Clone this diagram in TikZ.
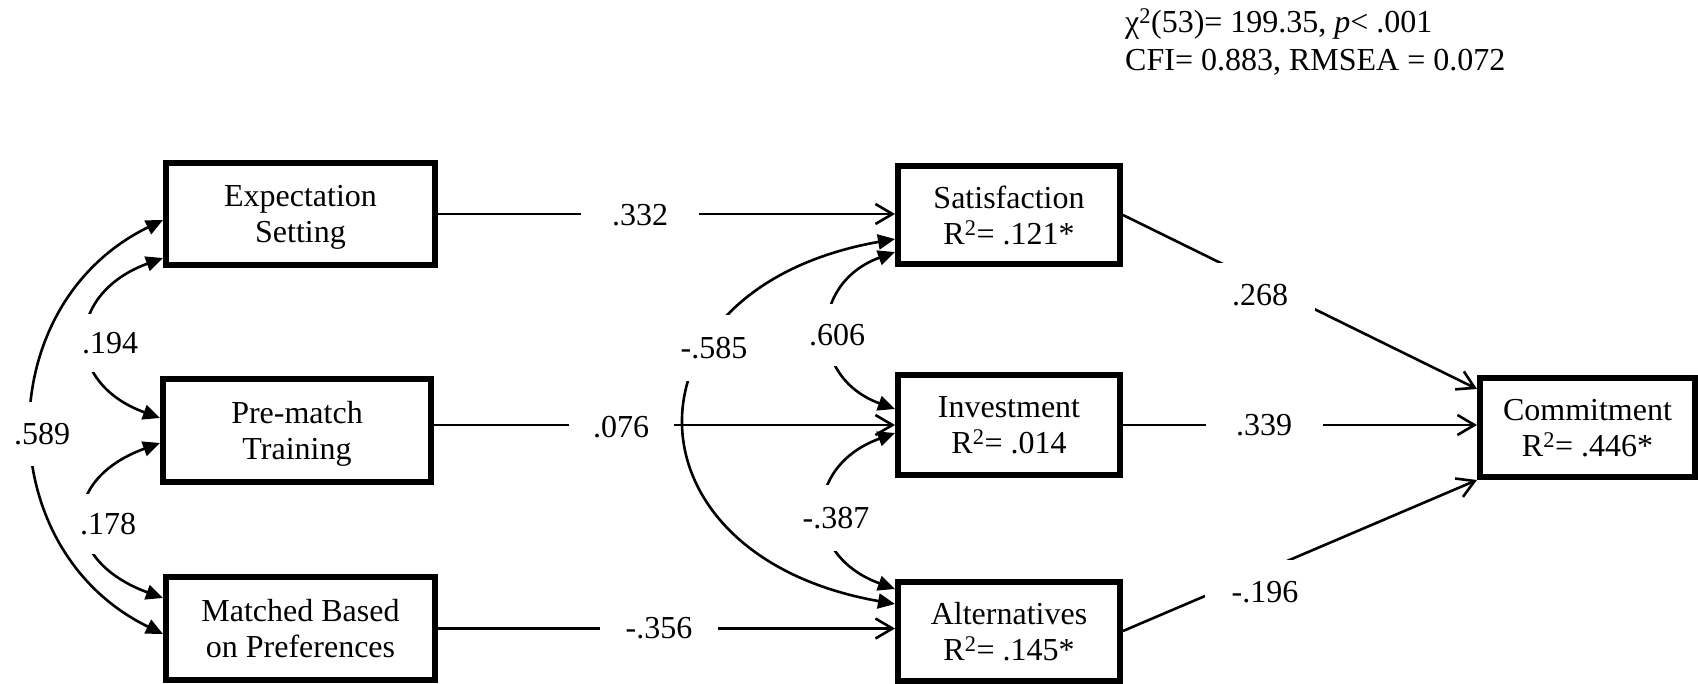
\documentclass[tikz,border=0pt]{standalone}
\usepackage{fontspec}
\setmainfont{Liberation Serif}
\usetikzlibrary{arrows.meta}
\begin{document}
\begin{tikzpicture}[x=1pt,y=1pt,
  every node/.style={font=\fontsize{32}{36}\selectfont},
  box/.style={draw, line width=6pt, align=center, inner sep=0pt, text depth=0pt},
  conn/.style={line width=2.6pt, -{Straight Barb[length=17pt,width=20pt]}},
  cov/.style={line width=2.6pt, {Triangle[length=17pt,width=15pt]}-{Triangle[length=17pt,width=15pt]}},
  lbl/.style={fill=white, inner sep=0pt}]
\fill[white] (0,0) rectangle (1698,-684);
\useasboundingbox (0,0) rectangle (1698,-684);
% boxes
\node[box, minimum width=269pt, minimum height=102pt] (exp) at (300.5,-214) {Expectation\\Setting};
\node[box, minimum width=268pt, minimum height=103pt] (pre) at (297,-430.5) {Pre-match\\Training};
\node[box, minimum width=269pt, minimum height=103pt] (mat) at (300.5,-628.5) {Matched Based\\on Preferences};
\node[box, minimum width=222pt, minimum height=98pt] (sat) at (1009,-215) {Satisfaction\\R\textsuperscript{2}= .121*};
\node[box, minimum width=222pt, minimum height=100pt] (inv) at (1009,-425) {Investment\\R\textsuperscript{2}= .014};
\node[box, minimum width=222pt, minimum height=99pt] (alt) at (1009,-631) {Alternatives\\R\textsuperscript{2}= .145*};
\node[box, minimum width=215pt, minimum height=99pt] (com) at (1587.5,-427.5) {Commitment\\R\textsuperscript{2}= .446*};
% fit statistics
\node[anchor=base west, inner sep=0pt] (chi) at (1125,-33) {χ\textsuperscript{2}(53)= 199.35, \textit{p}< .001};
\node[anchor=base west, inner sep=0pt] (fit) at (1125,-71) {CFI= 0.883, RMSEA = 0.072};
% paths
\draw[conn] (exp.east) -- (exp.east -| sat.west);
\draw[conn] (pre.east |- inv.west) -- (inv.west);
\draw[conn] (mat.east) -- (mat.east -| alt.west);
\draw[conn] (sat.east) -- ([yshift=-14pt]com.north west);
\draw[conn] (inv.east) -- (inv.east -| com.west);
\draw[conn] (alt.east) -- (com.south west);
% covariances
\draw[cov] ([yshift=-6pt]exp.west) .. controls +(206:193) and +(154:193) .. ([yshift=-5.5pt]mat.west);
\draw[cov] ([yshift=-44pt]exp.west) .. controls +(200:104) and +(160:104) .. ([yshift=12.5pt]pre.west);
\draw[cov] ([yshift=-12.5pt]pre.west) .. controls +(200:108) and +(160:108) .. ([yshift=30.5pt]mat.west);
\draw[cov] ([yshift=-37pt]sat.west) .. controls +(200:92) and +(160:92) .. ([yshift=16pt]inv.west);
\draw[cov] ([yshift=-8pt]inv.west) .. controls +(200:98) and +(160:98) .. ([yshift=42pt]alt.west);
\draw[cov] ([yshift=-24pt]sat.west) .. controls +(190:283) and +(170:283) .. ([yshift=27pt]alt.west);
% labels
\node[lbl, minimum width=118pt, minimum height=40pt] (l332) at (640,-215) {.332};
\node[lbl, minimum width=105pt, minimum height=40pt] (l076) at (621,-427) {.076};
\node[lbl, minimum width=118pt, minimum height=40pt] (l356) at (659,-628) {-.356};
\node[lbl, minimum width=110pt, minimum height=64pt] (l268) at (1260,-295) {.268};
\node[lbl, minimum width=117pt, minimum height=40pt] (l339) at (1264,-425) {.339};
\node[lbl, minimum width=120pt, minimum height=64pt] (l196) at (1265,-592) {-.196};
\node[lbl, minimum width=60pt, minimum height=64pt] (l589) at (42,-434) {.589};
\node[lbl, minimum width=56pt, minimum height=58pt] (l194) at (110,-343) {.194};
\node[lbl, minimum width=56pt, minimum height=60pt] (l178) at (108,-524) {.178};
\node[lbl, minimum width=60pt, minimum height=62pt] (l606) at (837,-335) {.606};
\node[lbl, minimum width=64pt, minimum height=66pt] (l387) at (836,-518) {-.387};
\node[lbl, minimum width=62pt, minimum height=66pt] (l585) at (714,-348) {-.585};
\end{tikzpicture}
\end{document}
